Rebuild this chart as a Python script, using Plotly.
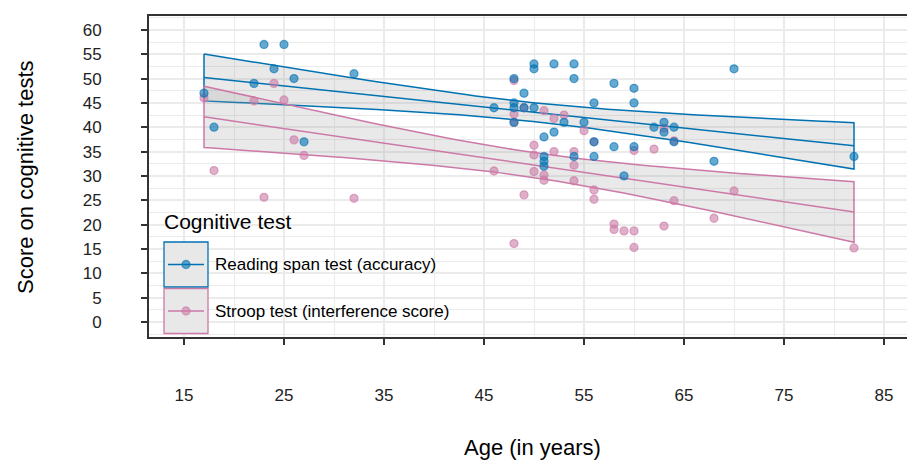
import numpy as np
import plotly.graph_objects as go

# ---------------- data ----------------
reading_age = [17, 18, 22, 23, 24, 25, 26, 27, 32, 46, 48, 48, 48, 48, 49, 49, 50, 50, 50,
               51, 51, 51, 51, 52, 52, 53, 54, 54, 54, 55, 56, 56, 56, 58, 58, 59, 60, 60, 60,
               62, 63, 63, 64, 64, 68, 70, 82]
reading_score = [47, 40, 49, 57, 52, 57, 50, 37, 51, 44, 50, 45, 44, 41, 47, 44, 53, 52, 44,
                 38, 34, 33, 32, 53, 39, 41, 53, 50, 34, 41, 45, 37, 34, 49, 36, 30, 48, 45, 36,
                 40, 41, 39, 40, 37, 33, 52, 34]

stroop_age = [17, 18, 22, 23, 24, 25, 26, 27, 32, 46, 48, 48, 48, 48, 49, 49, 50, 50, 50, 51,
              51, 51, 52, 52, 53, 54, 54, 54, 55, 56, 56, 56, 58, 58, 59, 60, 60, 60, 62, 63,
              63, 64, 64, 68, 70, 82]
stroop_score = [46.0, 31.1, 45.4, 25.6, 49.0, 45.6, 37.4, 34.2, 25.4, 31.0, 49.6, 42.7, 41.0,
                16.1, 44.0, 26.1, 36.3, 34.3, 30.9, 43.4, 30.2, 29.1, 41.8, 35.0, 42.5, 35.0,
                32.2, 29.0, 39.3, 37.0, 27.1, 25.2, 20.1, 19.0, 18.7, 35.2, 18.7, 15.3, 35.5,
                39.8, 19.7, 37.2, 24.9, 21.3, 26.9, 15.2]

series_names = ["Reading span test (accuracy)", "Stroop test (interference score)"]
legend_title = "Cognitive test"
x_ticks = [15, 25, 35, 45, 55, 65, 75, 85]
y_ticks = [0, 5, 10, 15, 20, 25, 30, 35, 40, 45, 50, 55, 60]

# ---------------- styling ----------------
BLUE = "#0072B2"
PINK = "#CC79A7"
BLUE_A = "rgba(0,114,178,0.6)"
PINK_A = "rgba(204,121,167,0.6)"
RIBBON = "rgba(153,153,153,0.22)"
FONT = "Liberation Sans, Arial, sans-serif"
W, H = 907, 460
L, R, T, B = 149, 0, 16, 123
PW, PH = W - L - R, H - T - B


def t_quantile(df, z=1.959964):
    return z + (z**3 + z) / (4 * df) + (5 * z**5 + 16 * z**3 + 3 * z) / (96 * df**2)


def lm_band(x, y, n=80):
    x = np.asarray(x, float)
    y = np.asarray(y, float)
    b1, b0 = np.polyfit(x, y, 1)
    xs = np.linspace(x.min(), x.max(), n)
    yhat = b0 + b1 * xs
    df = len(x) - 2
    s = np.sqrt(np.sum((y - (b0 + b1 * x)) ** 2) / df)
    sxx = np.sum((x - x.mean()) ** 2)
    se = s * np.sqrt(1 / len(x) + (xs - x.mean()) ** 2 / sxx)
    t = t_quantile(df)
    return xs, yhat, yhat - t * se, yhat + t * se


fig = go.Figure()

groups = [
    (reading_age, reading_score, BLUE, BLUE_A),
    (stroop_age, stroop_score, PINK, PINK_A),
]

for ages, scores, col, cola in groups:
    xs, yh, lo, hi = lm_band(ages, scores)
    px = list(xs) + list(xs[::-1]) + [xs[0]]
    py = list(hi) + list(lo[::-1]) + [hi[0]]
    fig.add_trace(go.Scatter(x=px, y=py, mode="lines", fill="toself", fillcolor=RIBBON,
                             line=dict(color=col, width=1.5), hoverinfo="skip", showlegend=False))
    fig.add_trace(go.Scatter(x=xs, y=yh, mode="lines", line=dict(color=col, width=1.5),
                             hoverinfo="skip", showlegend=False))

# stroop points first so reading points sit on top (as in the reference)
for (ages, scores, col, cola), name in reversed(list(zip(groups, series_names))):
    fig.add_trace(go.Scatter(x=ages, y=scores, mode="markers", name=name,
                             marker=dict(size=8, color=cola, line=dict(color=cola, width=1.3)),
                             showlegend=False))


def fx(p):
    return (p - L) / PW


def fy(p):
    return (H - B - p) / PH


shapes = []
annotations = []

# custom legend
annotations.append(dict(text=legend_title, xref="paper", yref="paper", x=fx(162), y=fy(221),
                        xanchor="left", yanchor="middle", showarrow=False,
                        font=dict(family=FONT, size=21, color="#000")))
key_boxes = [(242, 287), (288.5, 333.5)]
for (y0, y1), (ages, scores, col, cola), name in zip(key_boxes, groups, series_names):
    yc = (y0 + y1) / 2
    shapes.append(dict(type="rect", xref="paper", yref="paper", x0=fx(164), x1=fx(208),
                       y0=fy(y1), y1=fy(y0), fillcolor="#e8e8e8",
                       line=dict(color=col, width=1.3), layer="above"))
    shapes.append(dict(type="line", xref="paper", yref="paper", x0=fx(168), x1=fx(204),
                       y0=fy(yc), y1=fy(yc), line=dict(color=col, width=1.5), layer="above"))
    shapes.append(dict(type="circle", xref="paper", yref="paper", xsizemode="pixel",
                       ysizemode="pixel", xanchor=fx(186), yanchor=fy(yc),
                       x0=-4, x1=4, y0=-4, y1=4, fillcolor=cola,
                       line=dict(color=cola, width=1.3), layer="above"))
    annotations.append(dict(text=name, xref="paper", yref="paper", x=fx(213), y=fy(yc),
                            xanchor="left", yanchor="middle", showarrow=False,
                            font=dict(family=FONT, size=17, color="#000")))

# axis titles
annotations.append(dict(text="Age (in years)", xref="paper", yref="paper", x=fx(532), y=fy(447),
                        xanchor="center", yanchor="middle", showarrow=False,
                        font=dict(family=FONT, size=22, color="#000")))
annotations.append(dict(text="Score on cognitive tests", xref="paper", yref="paper", x=fx(26),
                        y=fy(177), xanchor="center", yanchor="middle", textangle=-90,
                        showarrow=False, font=dict(family=FONT, size=22, color="#000")))

GRID = "#ebebeb"
fig.update_layout(
    width=W, height=H,
    margin=dict(l=L, r=R, t=T, b=B, pad=0),
    paper_bgcolor="white", plot_bgcolor="white",
    showlegend=False,
    shapes=shapes, annotations=annotations,
    font=dict(family=FONT, size=17, color="#222"),
    xaxis=dict(range=[11.5, 87.3], tickmode="array", tickvals=x_ticks,
               ticktext=[str(v) for v in x_ticks],
               showgrid=True, gridcolor=GRID, gridwidth=1.8,
               minor=dict(dtick=5, tick0=15, showgrid=True, gridcolor=GRID, gridwidth=1.0),
               showline=True, linecolor="#333", linewidth=1.8, mirror=True,
               ticks="outside", ticklen=6, tickwidth=1.6, tickcolor="#333",
               ticklabelstandoff=36, zeroline=False,
               tickfont=dict(family=FONT, size=17, color="#222")),
    yaxis=dict(range=[-3.1, 62.85], tickmode="array", tickvals=y_ticks,
               ticktext=[str(v) for v in y_ticks],
               showgrid=True, gridcolor=GRID, gridwidth=1.8,
               minor=dict(dtick=5, tick0=2.5, showgrid=True, gridcolor=GRID, gridwidth=1.0),
               showline=True, linecolor="#333", linewidth=1.8, mirror=False,
               ticks="outside", ticklen=6, tickwidth=1.6, tickcolor="#333",
               ticklabelstandoff=36, zeroline=False,
               tickfont=dict(family=FONT, size=17, color="#222")),
)

fig.write_html("out.html")
